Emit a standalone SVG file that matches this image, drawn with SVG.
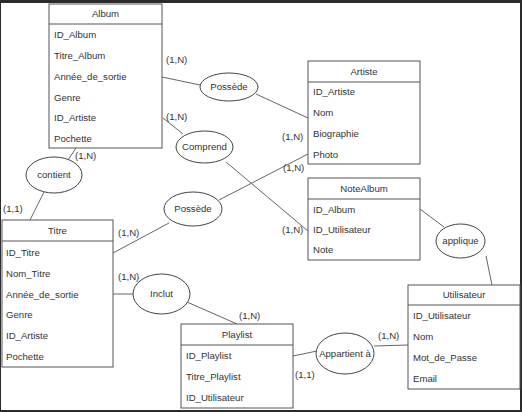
<svg xmlns="http://www.w3.org/2000/svg" width="522" height="412" viewBox="0 0 522 412">
<style>
text{font-family:"Liberation Sans",Arial,sans-serif;font-size:9.6px;fill:#333}
.box{fill:#fff;stroke:#555;stroke-width:1}
.hl{stroke:#555;stroke-width:1}
.el{fill:#fff;stroke:#444;stroke-width:1}
.c{text-anchor:middle}
#connectors line{stroke:#666;stroke-width:1}
</style>
<rect x="0" y="0" width="522" height="412" fill="#2b2b2b"/>
<rect x="1" y="3" width="519" height="407" fill="#fff"/>
<g id="connectors">
<line x1="162" y1="77" x2="200" y2="85"/>
<line x1="256" y1="94" x2="308" y2="118"/>
<line x1="163" y1="118" x2="183" y2="134"/>
<line x1="226" y1="162" x2="308" y2="231"/>
<line x1="76" y1="148" x2="68" y2="160"/>
<line x1="44" y1="192" x2="30" y2="220"/>
<line x1="113" y1="253" x2="169" y2="223"/>
<line x1="219" y1="200" x2="308" y2="154"/>
<line x1="113" y1="294" x2="133" y2="294"/>
<line x1="187" y1="302" x2="237" y2="324"/>
<line x1="420" y1="209" x2="444" y2="227"/>
<line x1="486" y1="256" x2="492" y2="285"/>
<line x1="293" y1="356" x2="317" y2="351"/>
<line x1="374" y1="346" x2="408" y2="345"/>
</g>
<g id="labels">
<text x="166" y="63.4">(1,N)</text>
<text x="166" y="120.4">(1,N)</text>
<text x="75" y="159.4">(1,N)</text>
<text x="3" y="212.4">(1,1)</text>
<text x="282" y="140.4">(1,N)</text>
<text x="283" y="171.4">(1,N)</text>
<text x="282" y="233.4">(1,N)</text>
<text x="118" y="236.4">(1,N)</text>
<text x="118" y="280.4">(1,N)</text>
<text x="239" y="319.4">(1,N)</text>
<text x="295" y="378.4">(1,1)</text>
<text x="378" y="339.4">(1,N)</text>
</g>
<g id="Album">
<rect class="box" x="49" y="4" width="113" height="144"/>
<line class="hl" x1="49" y1="24" x2="162" y2="24"/>
<text class="c" x="105.5" y="17.4">Album</text>
<text x="54" y="38.4">ID_Album</text>
<text x="54" y="59.1">Titre_Album</text>
<text x="54" y="79.8">Année_de_sortie</text>
<text x="54" y="100.5">Genre</text>
<text x="54" y="121.2">ID_Artiste</text>
<text x="54" y="141.9">Pochette</text>
</g>
<g id="Artiste">
<rect class="box" x="308" y="61" width="112" height="103"/>
<line class="hl" x1="308" y1="82" x2="420" y2="82"/>
<text class="c" x="364" y="74.9">Artiste</text>
<text x="313" y="95.4">ID_Artiste</text>
<text x="313" y="116.4">Nom</text>
<text x="313" y="137.4">Biographie</text>
<text x="313" y="158.4">Photo</text>
</g>
<g id="NoteAlbum">
<rect class="box" x="308" y="178" width="112" height="82"/>
<line class="hl" x1="308" y1="199" x2="420" y2="199"/>
<text class="c" x="364" y="191.9">NoteAlbum</text>
<text x="313" y="213.4">ID_Album</text>
<text x="313" y="233.4">ID_Utilisateur</text>
<text x="313" y="253.4">Note</text>
</g>
<g id="Titre">
<rect class="box" x="2" y="220" width="111" height="147"/>
<line class="hl" x1="2" y1="241" x2="113" y2="241"/>
<text class="c" x="57.5" y="233.9">Titre</text>
<text x="6" y="256.1">ID_Titre</text>
<text x="6" y="276.8">Nom_Titre</text>
<text x="6" y="297.5">Année_de_sortie</text>
<text x="6" y="318.2">Genre</text>
<text x="6" y="338.9">ID_Artiste</text>
<text x="6" y="359.6">Pochette</text>
</g>
<g id="Playlist">
<rect class="box" x="181" y="324" width="112" height="84"/>
<line class="hl" x1="181" y1="345" x2="293" y2="345"/>
<text class="c" x="237" y="337.9">Playlist</text>
<text x="186" y="359.4">ID_Playlist</text>
<text x="186" y="380.4">Titre_Playlist</text>
<text x="186" y="401.4">ID_Utilisateur</text>
</g>
<g id="Utilisateur">
<rect class="box" x="408" y="285" width="112" height="104"/>
<line class="hl" x1="408" y1="305" x2="520" y2="305"/>
<text class="c" x="464" y="298.4">Utilisateur</text>
<text x="413" y="319.4">ID_Utilisateur</text>
<text x="413" y="340.4">Nom</text>
<text x="413" y="361.4">Mot_de_Passe</text>
<text x="413" y="382.4">Email</text>
</g>
<g id="Possede1">
<ellipse class="el" cx="229" cy="87" rx="29" ry="14"/>
<text class="c" x="229" y="90.4">Possède</text>
</g>
<g id="Comprend">
<ellipse class="el" cx="204.5" cy="147" rx="28.5" ry="16"/>
<text class="c" x="204.5" y="150.4">Comprend</text>
</g>
<g id="contient">
<ellipse class="el" cx="54" cy="175" rx="28" ry="18"/>
<text class="c" x="54" y="178.4">contient</text>
</g>
<g id="Possede2">
<ellipse class="el" cx="193" cy="209" rx="29" ry="17"/>
<text class="c" x="193" y="212.4">Possède</text>
</g>
<g id="Inclut">
<ellipse class="el" cx="161.5" cy="294" rx="28.5" ry="20"/>
<text class="c" x="161.5" y="297.4">Inclut</text>
</g>
<g id="applique">
<ellipse class="el" cx="460.5" cy="241" rx="24.5" ry="17"/>
<text class="c" x="460.5" y="244.4">applique</text>
</g>
<g id="Appartient">
<ellipse class="el" cx="345" cy="353.5" rx="29" ry="20.5"/>
<text class="c" x="345" y="356.9">Appartient à</text>
</g>
</svg>
